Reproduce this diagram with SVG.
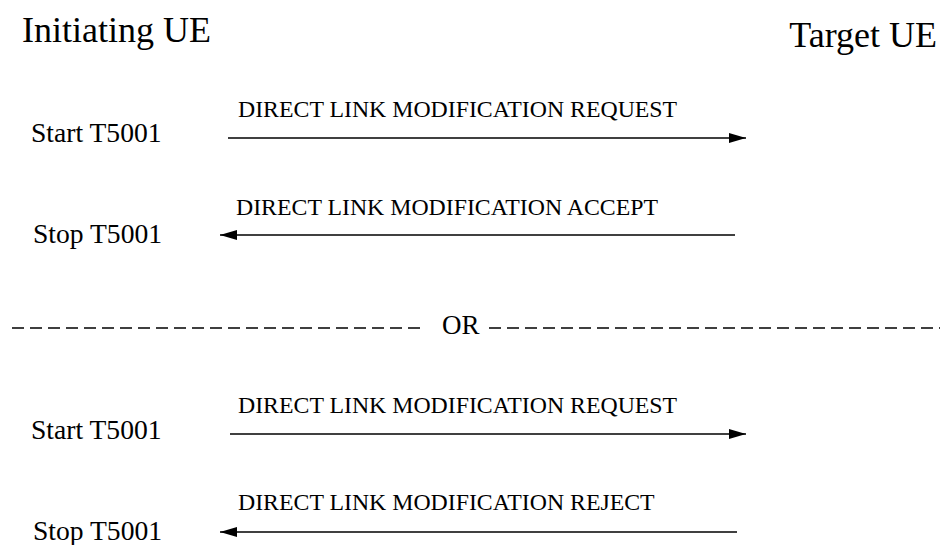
<svg xmlns="http://www.w3.org/2000/svg" width="945" height="545" viewBox="0 0 945 545">
  <style>
    text { fill: #000; }
    .title { font-size: 36px; }
    .timer { font-size: 27.6px; }
    .msg { font-size: 23.8px; }
    .or { font-size: 27px; }
    .arrow { stroke: #000; stroke-width: 1.5; fill: none; marker-end: url(#ah); }
    .dash { stroke: #000; stroke-width: 1.5; stroke-dasharray: 12 6; fill: none; }
  </style>
  <defs>
    <marker id="ah" markerUnits="userSpaceOnUse" markerWidth="18" markerHeight="11" refX="17" refY="5" orient="auto">
      <path d="M0,0 L17,5 L0,10 Z" fill="#000"/>
    </marker>
  </defs>
  <rect width="945" height="545" fill="#fff"/>

  <g font-family="Liberation Serif, Tinos, Times New Roman, DejaVu Serif, serif">
  <g id="initiating-ue"><text class="title" x="22" y="42">Initiating UE</text></g>
  <g id="target-ue"><text class="title" x="937" y="47" text-anchor="end">Target UE</text></g>

  <g id="start1"><text class="timer" x="31" y="142">Start T5001</text></g>
  <g id="stop1"><text class="timer" x="33" y="243">Stop T5001</text></g>
  <g id="start2"><text class="timer" x="31" y="439">Start T5001</text></g>
  <g id="stop2"><text class="timer" x="33" y="540">Stop T5001</text></g>

  <g id="or-separator">
    <line class="dash" x1="12" y1="328" x2="426" y2="328"/>
    <text class="or" x="442" y="334">OR</text>
    <line class="dash" x1="489" y1="328" x2="940" y2="328"/>
  </g>

  <g id="connectors">
    <g id="msg1">
      <text class="msg" x="238" y="117">DIRECT LINK MODIFICATION REQUEST</text>
      <line class="arrow" x1="228" y1="138" x2="746" y2="138"/>
    </g>
    <g id="msg2">
      <text class="msg" x="236" y="215">DIRECT LINK MODIFICATION ACCEPT</text>
      <line class="arrow" x1="735" y1="235" x2="220" y2="235"/>
    </g>
    <g id="msg3">
      <text class="msg" x="238" y="413">DIRECT LINK MODIFICATION REQUEST</text>
      <line class="arrow" x1="230" y1="434" x2="746" y2="434"/>
    </g>
    <g id="msg4">
      <text class="msg" x="238" y="510">DIRECT LINK MODIFICATION REJECT</text>
      <line class="arrow" x1="737" y1="532" x2="220" y2="532"/>
    </g>
  </g>
  </g>
</svg>
